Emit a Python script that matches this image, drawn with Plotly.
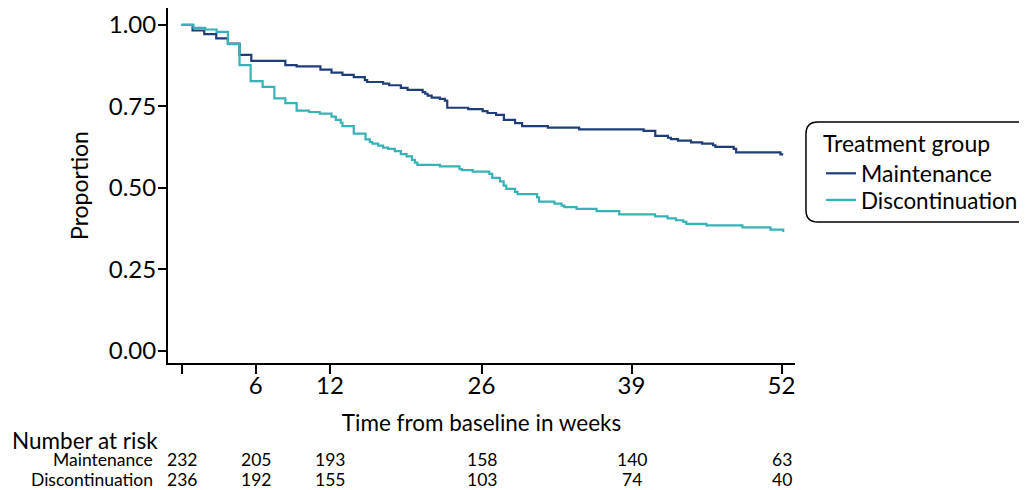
import plotly.graph_objects as go

# ---- data ----
maint_weeks = [0, 0.96, 1.97, 3.01, 4.02, 5.03, 6.05, 9.00, 9.98, 12.04, 13.0, 13.95, 14.93,
               15.89, 16.09, 17.47, 18.0, 19.01, 19.59, 20.90, 21.12, 21.33, 21.68, 22.40,
               22.83, 23.03, 24.85, 26.10, 26.52, 27.26, 27.94, 28.91, 29.52, 31.75, 34.46,
               40.05, 41.06, 42.16, 42.42, 43.03, 44.16, 45.12, 46.07, 46.27, 47.86, 48.07,
               51.91, 52.15]
maint_surv = [1.0, 0.983, 0.972, 0.959, 0.943, 0.908, 0.890, 0.877, 0.873, 0.863, 0.854, 0.847,
              0.840, 0.831, 0.825, 0.820, 0.815, 0.807, 0.801, 0.794, 0.789, 0.783, 0.777,
              0.773, 0.768, 0.746, 0.742, 0.736, 0.730, 0.724, 0.709, 0.699, 0.690, 0.685,
              0.680, 0.675, 0.660, 0.654, 0.650, 0.645, 0.640, 0.636, 0.631, 0.626, 0.620,
              0.609, 0.603, 0.603]

disc_weeks = [0, 1.04, 2.06, 3.04, 4.02, 5.03, 5.99, 7.03, 8.05, 9.00, 9.98, 11.05, 11.98,
              13.0, 13.37, 13.80, 13.95, 14.93, 15.95, 16.32, 16.54, 17.04, 17.47, 17.91,
              18.49, 19.01, 19.51, 19.97, 20.23, 20.44, 22.40, 24.09, 24.31, 25.24, 26.68,
              26.93, 27.60, 27.92, 28.15, 28.91, 29.12, 30.82, 30.99, 32.32, 32.94, 33.18,
              34.24, 35.97, 37.94, 41.04, 42.13, 42.86, 43.49, 43.75, 45.49, 48.61, 51.04,
              52.15]
disc_surv = [1.0, 0.991, 0.986, 0.979, 0.941, 0.877, 0.828, 0.810, 0.775, 0.760, 0.737, 0.733,
             0.728, 0.719, 0.709, 0.700, 0.690, 0.667, 0.649, 0.641, 0.636, 0.630, 0.624,
             0.620, 0.613, 0.604, 0.597, 0.586, 0.578, 0.571, 0.566, 0.558, 0.555, 0.550,
             0.543, 0.531, 0.520, 0.507, 0.497, 0.488, 0.481, 0.471, 0.458, 0.452, 0.446,
             0.441, 0.436, 0.429, 0.419, 0.413, 0.407, 0.401, 0.396, 0.390, 0.385, 0.379,
             0.372, 0.365]

tick_weeks = [0, 6.43, 12.86, 26, 39, 52]
tick_labels = ["", "6", "12", "26", "39", "52"]
risk_maint = [232, 205, 193, 158, 140, 63]
risk_disc = [236, 192, 155, 103, 74, 40]
group_names = ["Maintenance", "Discontinuation"]

NAVY = "#1f3d78"
TEAL = "#38b1b7"
FONT = "Lato"
TXT = 23
TICK = 24
SMALL = 17.5

fig = go.Figure()
fig.add_trace(go.Scatter(x=maint_weeks, y=maint_surv, mode="lines", name=group_names[0],
                         legend="legend",
                         line=dict(color=NAVY, width=2.2, shape="hv")))
fig.add_trace(go.Scatter(x=disc_weeks, y=disc_surv, mode="lines", name=group_names[1],
                         legend="legend2",
                         line=dict(color=TEAL, width=2.2, shape="hv")))

# risk table
ann = []
ann.append(dict(text="Number at risk", x=-0.252, y=-0.217, xref="paper", yref="paper",
                xanchor="left", yanchor="middle", showarrow=False,
                font=dict(size=22.5, family=FONT, color="black")))
for name, row, yy in [(group_names[0], risk_maint, -0.273), (group_names[1], risk_disc, -0.327)]:
    ann.append(dict(text=name, x=-0.0207, y=yy, xref="paper", yref="paper", xanchor="right",
                    yanchor="middle", showarrow=False,
                    font=dict(size=SMALL, family=FONT, color="black")))
    for t, n in zip(tick_weeks, row):
        ann.append(dict(text=str(n), x=t, y=yy, xref="x", yref="paper", xanchor="center",
                        yanchor="middle", showarrow=False,
                        font=dict(size=SMALL, family=FONT, color="black")))

# rounded legend box
x0, x1, y0, y1 = 1.0175, 1.38, 0.397, 0.679
rx, ry = 0.019, 0.034
path = (f"M {x0+rx},{y1} L {x1-rx},{y1} Q {x1},{y1} {x1},{y1-ry} L {x1},{y0+ry} "
        f"Q {x1},{y0} {x1-rx},{y0} L {x0+rx},{y0} Q {x0},{y0} {x0},{y0+ry} "
        f"L {x0},{y1-ry} Q {x0},{y1} {x0+rx},{y1} Z")

leg_common = dict(xanchor="left", yanchor="top", bgcolor="rgba(0,0,0,0)", borderwidth=0,
                  tracegroupgap=0)

fig.update_layout(
    width=1019, height=482, autosize=False,
    margin=dict(l=160, r=232, t=0, b=127),
    paper_bgcolor="white", plot_bgcolor="white",
    font=dict(family=FONT, size=TXT, color="black"),
    showlegend=True,
    legend=dict(title=dict(text="Treatment group", font=dict(size=TXT, family=FONT)),
                x=1.0415, y=0.679, font=dict(size=TXT, family=FONT), **leg_common),
    legend2=dict(x=1.0415, y=0.519, font=dict(size=22.4, family=FONT), **leg_common),
    annotations=ann,
    shapes=[dict(type="path", path=path, xref="paper", yref="paper",
                 line=dict(color="black", width=1.5), fillcolor="rgba(0,0,0,0)")],
    xaxis=dict(range=[-1.17, 53.17], tickvals=tick_weeks, ticktext=tick_labels,
               ticks="outside", ticklen=9, tickwidth=2, tickcolor="black",
               ticklabelstandoff=-9,
               showline=True, linecolor="black", linewidth=2, showgrid=False, zeroline=False,
               title=dict(text="Time from baseline in weeks", standoff=17,
                          font=dict(size=22.5, family=FONT)),
               tickfont=dict(size=TICK, family=FONT)),
    yaxis=dict(range=[-0.0368, 1.052], tickvals=[0, 0.25, 0.5, 0.75, 1.0], tickformat=".2f",
               ticks="outside", ticklen=8, tickwidth=2, tickcolor="black",
               ticklabelstandoff=-3,
               showline=True, linecolor="black", linewidth=2, showgrid=False, zeroline=False,
               title=dict(text="Proportion", standoff=14, font=dict(size=TXT, family=FONT)),
               tickfont=dict(size=TICK, family=FONT)),
)

fig.write_html("out.html")
